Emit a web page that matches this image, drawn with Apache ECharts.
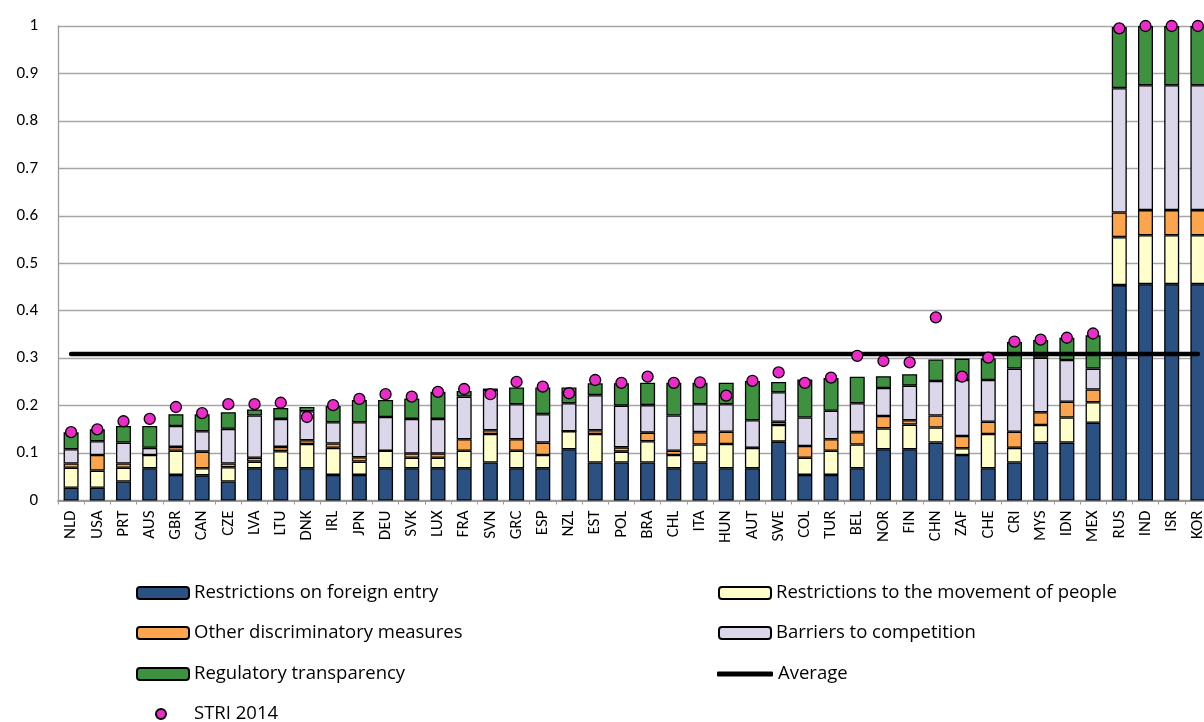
<!DOCTYPE html>
<html>
<head>
<meta charset="utf-8">
<script src="https://cdn.jsdelivr.net/npm/echarts@6/dist/echarts.min.js"></script>
<style>html,body{margin:0;padding:0;background:#fff;overflow:hidden;}#c{width:1215px;height:722px;}</style>
</head>
<body>
<div id="c"></div>
<script>
const categories = ['NLD','USA','PRT','AUS','GBR','CAN','CZE','LVA','LTU','DNK','IRL','JPN','DEU','SVK','LUX','FRA','SVN','GRC','ESP','NZL','EST','POL','BRA','CHL','ITA','HUN','AUT','SWE','COL','TUR','BEL','NOR','FIN','CHN','ZAF','CHE','CRI','MYS','IDN','MEX','RUS','IND','ISR','KOR'];
const foreignEntry = [0.027,0.027,0.040,0.068,0.054,0.053,0.040,0.068,0.068,0.068,0.054,0.054,0.068,0.068,0.068,0.068,0.080,0.068,0.068,0.108,0.080,0.080,0.080,0.068,0.080,0.068,0.068,0.124,0.054,0.054,0.068,0.108,0.108,0.122,0.096,0.068,0.080,0.122,0.122,0.164,0.454,0.456,0.456,0.456];
const movementPeople = [0.042,0.036,0.029,0.028,0.051,0.015,0.030,0.014,0.036,0.051,0.057,0.028,0.037,0.022,0.022,0.037,0.060,0.037,0.028,0.038,0.060,0.023,0.045,0.028,0.038,0.051,0.043,0.035,0.036,0.051,0.050,0.044,0.052,0.032,0.014,0.072,0.031,0.037,0.053,0.043,0.101,0.103,0.103,0.103];
const otherDiscrim = [0.009,0.033,0.009,0,0.008,0.035,0.008,0.008,0.009,0.008,0.009,0.009,0,0.009,0.009,0.024,0.008,0.024,0.026,0,0.008,0.009,0.018,0.009,0.026,0.026,0,0.007,0.025,0.024,0.026,0.026,0.009,0.025,0.026,0.026,0.034,0.027,0.033,0.027,0.052,0.053,0.053,0.053];
const barriersCompetition = [0.030,0.029,0.044,0.015,0.044,0.043,0.073,0.089,0.059,0.061,0.045,0.074,0.071,0.073,0.073,0.090,0.085,0.074,0.060,0.059,0.074,0.088,0.058,0.074,0.059,0.058,0.058,0.062,0.060,0.060,0.061,0.059,0.073,0.073,0.118,0.088,0.133,0.115,0.088,0.044,0.262,0.263,0.263,0.263];
const regTransparency = [0.036,0.025,0.035,0.046,0.025,0.036,0.035,0.013,0.023,0.009,0.034,0.047,0.036,0.043,0.057,0.012,0.003,0.035,0.056,0.033,0.025,0.047,0.047,0.069,0.045,0.045,0.083,0.022,0.080,0.069,0.056,0.025,0.024,0.045,0.045,0.045,0.056,0.037,0.047,0.070,0.129,0.125,0.125,0.125];
const stri2014 = [0.144,0.150,0.167,0.172,0.197,0.184,0.203,0.203,0.206,0.176,0.201,0.214,0.224,0.219,0.229,0.235,0.224,0.250,0.240,0.226,0.254,0.248,0.261,0.248,0.249,0.221,0.252,0.270,0.248,0.259,0.305,0.294,0.291,0.386,0.261,0.301,0.335,0.339,0.343,0.352,0.995,1.0,1.0,1.0];
const averageValue = 0.309;
const yTicks = [0,0.1,0.2,0.3,0.4,0.5,0.6,0.7,0.8,0.9,1];

const FONT = 'Carlito, Lato, sans-serif';
const LFONT = '"Open Sans", sans-serif';
function barSeries(name, data, color) {
  return {
    name: name, type: 'bar', stack: 'stri', data: data, barWidth: 15,
    itemStyle: { color: color, borderColor: '#000', borderWidth: 1.3 },
    z: 2
  };
}
function leg(name, left, centerY, opts, textOpts) {
  const o = {
    orient: 'horizontal', left: left, top: centerY - 10, padding: 0,
    itemWidth: 52, itemHeight: 12, itemGap: 5,
    textStyle: Object.assign({ fontSize: 18.5, color: '#000', fontFamily: LFONT, lineHeight: 20 }, textOpts || {}),
    data: [name]
  };
  return Object.assign(o, opts || {});
}
const chart = echarts.init(document.getElementById('c'), null, { renderer: 'canvas' });
chart.setOption({
  animation: false,
  backgroundColor: '#fff',
  textStyle: { fontFamily: FONT },
  grid: { left: 58, top: 26, right: 4, height: 474.5, containLabel: false },
  xAxis: {
    type: 'category', data: categories,
    axisLine: { lineStyle: { color: '#9a9a9a', width: 2 } },
    axisTick: { show: true, length: 4, lineStyle: { color: '#9a9a9a' } },
    axisLabel: { rotate: 90, fontSize: 17, color: '#000', fontFamily: FONT, margin: 10, interval: 0 }
  },
  yAxis: {
    type: 'value', min: 0, max: 1, interval: 0.1,
    axisLine: { show: true, lineStyle: { color: '#9a9a9a', width: 1.3 } },
    axisTick: { show: false },
    splitLine: { lineStyle: { color: '#a6a6a6', width: 1.3 } },
    axisLabel: { fontSize: 17, color: '#000', fontFamily: FONT, margin: 20,
      formatter: function (v) { return yTicks.indexOf(Math.round(v * 10) / 10) >= 0 ? String(Math.round(v * 10) / 10) : ''; } }
  },
  legend: [
    leg('Restrictions on foreign entry', 136, 593),
    leg('Other discriminatory measures', 136, 633),
    leg('Regulatory transparency', 136, 674),
    leg('STRI 2014', 155, 714, { itemWidth: 10, itemHeight: 10, icon: 'circle' }, { padding: [0, 0, 0, 23] }),
    leg('Restrictions to the movement of people', 718, 593),
    leg('Barriers to competition', 718, 633),
    leg('Average', 717, 674, { itemWidth: 56, itemHeight: 5, icon: 'roundRect', top: 664 })
  ],
  series: [
    barSeries('Restrictions on foreign entry', foreignEntry, '#2B5183'),
    barSeries('Restrictions to the movement of people', movementPeople, '#FFFFCC'),
    barSeries('Other discriminatory measures', otherDiscrim, '#FBA54F'),
    barSeries('Barriers to competition', barriersCompetition, '#DCD6EA'),
    barSeries('Regulatory transparency', regTransparency, '#3E923F'),
    {
      name: 'Average', type: 'line', data: categories.map(function () { return averageValue; }),
      symbol: 'none', lineStyle: { color: '#000', width: 4.5, cap: 'round' }, itemStyle: { color: '#000' }, z: 5
    },
    {
      name: 'STRI 2014', type: 'scatter', data: stri2014, symbol: 'circle', symbolSize: 11,
      itemStyle: { color: '#EC2BC8', borderColor: '#000', borderWidth: 1.3, opacity: 1 }, z: 6
    }
  ]
});
</script>
</body>
</html>
